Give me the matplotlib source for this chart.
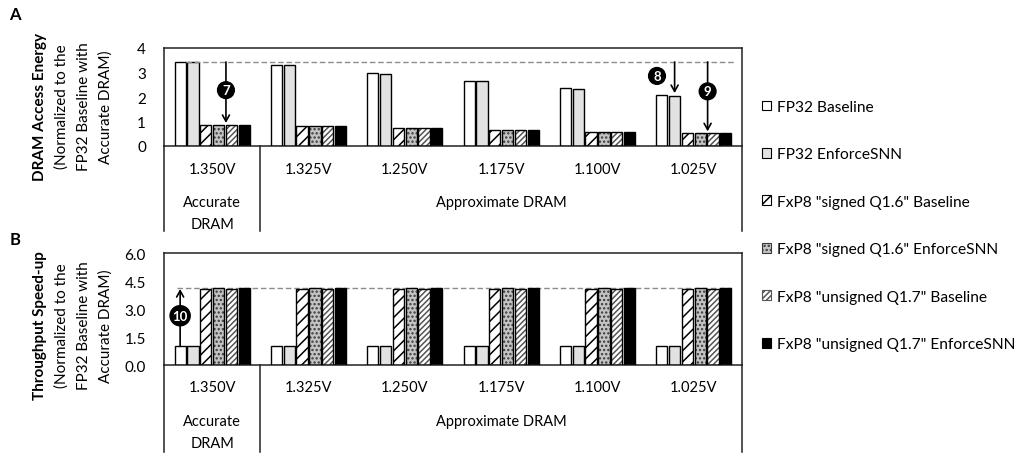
import numpy as np
import matplotlib.pyplot as plt
from matplotlib.patches import Patch

plt.rcParams['font.family'] = ['Lato', 'DejaVu Sans']
plt.rcParams['hatch.linewidth'] = 1.1

# ---- data ----
voltages = ['1.350V', '1.325V', '1.250V', '1.175V', '1.100V', '1.025V']
series_names = ['FP32 Baseline', 'FP32 EnforceSNN',
                'FxP8 "signed Q1.6" Baseline', 'FxP8 "signed Q1.6" EnforceSNN',
                'FxP8 "unsigned Q1.7" Baseline', 'FxP8 "unsigned Q1.7" EnforceSNN']

# DRAM access energy (normalized to FP32 baseline with accurate DRAM)
energy_fp32_base = [3.43, 3.30, 2.96, 2.67, 2.35, 2.07]
energy_fp32_enf = [3.41, 3.29, 2.95, 2.66, 2.34, 2.06]
energy_s16_base = [0.86, 0.83, 0.74, 0.67, 0.59, 0.52]
energy_s16_enf = [0.86, 0.83, 0.74, 0.67, 0.59, 0.52]
energy_u17_base = [0.86, 0.83, 0.74, 0.67, 0.59, 0.52]
energy_u17_enf = [0.86, 0.83, 0.74, 0.67, 0.59, 0.52]

# throughput speed-up
speed_fp32_base = [1.0, 1.0, 1.0, 1.0, 1.0, 1.0]
speed_fp32_enf = [1.0, 1.0, 1.0, 1.0, 1.0, 1.0]
speed_s16_base = [4.05, 4.05, 4.05, 4.05, 4.05, 4.05]
speed_s16_enf = [4.12, 4.12, 4.12, 4.12, 4.12, 4.12]
speed_u17_base = [4.05, 4.05, 4.05, 4.05, 4.05, 4.05]
speed_u17_enf = [4.12, 4.12, 4.12, 4.12, 4.12, 4.12]

energy = [energy_fp32_base, energy_fp32_enf, energy_s16_base,
          energy_s16_enf, energy_u17_base, energy_u17_enf]
speed = [speed_fp32_base, speed_fp32_enf, speed_s16_base,
         speed_s16_enf, speed_u17_base, speed_u17_enf]

# bar looks: face, hatch, hatch colour
styles = [
    ('white', None, 'black'),
    ('#e2e2e2', None, 'black'),
    ('white', '///', 'black'),
    ('#c4c4c4', '....', '#3a3a3a'),
    ('white', '//////', '#555555'),
    ('black', None, 'black'),
]

x = np.arange(len(voltages))
pitch = 0.133
width = 0.117
offsets = (np.arange(6) - 2.5) * pitch

fig = plt.figure(figsize=(10.21, 4.56), dpi=100)
ax1 = fig.add_axes([164 / 1021, 1 - 147 / 456, 578 / 1021, 98 / 456])
ax2 = fig.add_axes([164 / 1021, 1 - 366 / 456, 578 / 1021, 112 / 456])


def draw_bars(ax, data):
    for i, vals in enumerate(data):
        face, hatch, hcol = styles[i]
        ax.bar(x + offsets[i], vals, width, color=face, hatch=hatch,
               edgecolor=hcol, linewidth=0, zorder=2)
        ax.bar(x + offsets[i], vals, width, fill=False,
               edgecolor='black', linewidth=1.0, zorder=3)


def draw_table(ax, depth, yv, ya, yd):
    tr = ax.get_xaxis_transform()
    for xv in [-0.5, 0.5, 5.5]:
        ax.plot([xv, xv], [0, -depth], color='#222222', lw=1.1,
                transform=tr, clip_on=False)
    for i, v in enumerate(voltages):
        ax.text(i, yv, v, transform=tr, ha='center', va='center', fontsize=10.5)
    ax.text(0, ya, 'Accurate', transform=tr, ha='center', va='center', fontsize=10.5)
    ax.text(0, yd, 'DRAM', transform=tr, ha='center', va='center', fontsize=10.5)
    ax.text(3, ya, 'Approximate DRAM', transform=tr, ha='center', va='center',
            fontsize=10.5)


def style_axes(ax, ymax, ticks, fmt):
    ax.set_xlim(-0.5, 5.5)
    ax.set_ylim(0, ymax)
    ax.set_xticks([])
    ax.set_yticks(ticks)
    ax.set_yticklabels([fmt.format(t) for t in ticks], fontsize=11)
    ax.tick_params(axis='y', length=0, pad=13)
    for s in ax.spines.values():
        s.set_color('#222222')
        s.set_linewidth(1.1)


def marker(ax, xv, yv, label):
    ax.text(xv, yv, label, ha='center', va='center', color='white',
            fontsize=9.5, fontweight='bold', zorder=6,
            bbox=dict(boxstyle='circle,pad=0.18', fc='black', ec='black'))


def arrow(ax, xv, y0, y1):
    ax.annotate('', xy=(xv, y1), xytext=(xv, y0), zorder=5,
                arrowprops=dict(arrowstyle='->,head_length=0.45,head_width=0.25',
                                color='black', lw=1.2, shrinkA=0, shrinkB=0))


# ---- A: energy ----
draw_bars(ax1, energy)
style_axes(ax1, 4, [0, 1, 2, 3, 4], '{:.0f}')
top_e = energy_fp32_base[0]
ax1.plot([x[0] + offsets[0] + width / 2, x[-1] + offsets[-1] + width / 2 + 0.04],
         [top_e, top_e], ls=(0, (4, 2)), color='#8c8c8c', lw=1, zorder=4)
draw_table(ax1, 0.87, -0.235, -0.57, -0.80)

xa = x[0] + (offsets[3] + offsets[4]) / 2 + 0.01
arrow(ax1, xa, top_e, energy_u17_base[0] + 0.08)
marker(ax1, xa, 2.28, '7')
xb = x[5] + offsets[1]
arrow(ax1, xb, top_e, energy_fp32_enf[5] + 0.1)
marker(ax1, x[5] + offsets[0] - 0.05, 2.86, '8')
xc = x[5] + (offsets[3] + offsets[4]) / 2 + 0.01
arrow(ax1, xc, top_e, energy_u17_base[5] + 0.08)
marker(ax1, xc, 2.23, '9')

# ---- B: speed-up ----
draw_bars(ax2, speed)
style_axes(ax2, 6, [0, 1.5, 3.0, 4.5, 6.0], '{:.1f}')
top_s = speed_u17_enf[0]
ax2.plot([x[0] + offsets[0] - 0.03, x[-1] + offsets[-1] + width / 2],
         [top_s, top_s], ls=(0, (4, 2)), color='#8c8c8c', lw=1, zorder=1)
draw_table(ax2, 0.78, -0.196, -0.50, -0.70)
arrow(ax2, x[0] + offsets[0], speed_fp32_base[0], top_s - 0.05)
marker(ax2, x[0] + offsets[0], 2.64, '10')

# ---- y labels ----
for yc_px, title in [(107, 'DRAM Access Energy'), (326, 'Throughput Speed-up')]:
    yc = 1 - yc_px / 456
    texts = [(title, 'bold'), ('(Normalized to the', 'normal'),
             ('FP32 Baseline with', 'normal'), ('Accurate DRAM)', 'normal')]
    for xp, (t, w) in zip([40, 62, 84, 106], texts):
        fig.text(xp / 1021, yc, t, rotation=90, ha='center', va='center',
                 fontsize=11, fontweight=w)

fig.text(15 / 1021, 1 - 15 / 456, 'A', fontsize=12, fontweight='bold',
         ha='center', va='center')
fig.text(15 / 1021, 1 - 240 / 456, 'B', fontsize=12, fontweight='bold',
         ha='center', va='center')

# ---- legend ----
handles = [Patch(facecolor=f, hatch=h, edgecolor=('black' if h is None else c),
                 linewidth=0.8) for f, h, c in styles]
fig.legend(handles, series_names, loc='upper left',
           bbox_to_anchor=(762 / 1021, 1 - 101 / 456), frameon=False,
           fontsize=11.2, handlelength=0.6, handleheight=0.6,
           handletextpad=0.35, labelspacing=2.15, borderpad=0, borderaxespad=0)

fig.savefig('out.png', dpi=100)
